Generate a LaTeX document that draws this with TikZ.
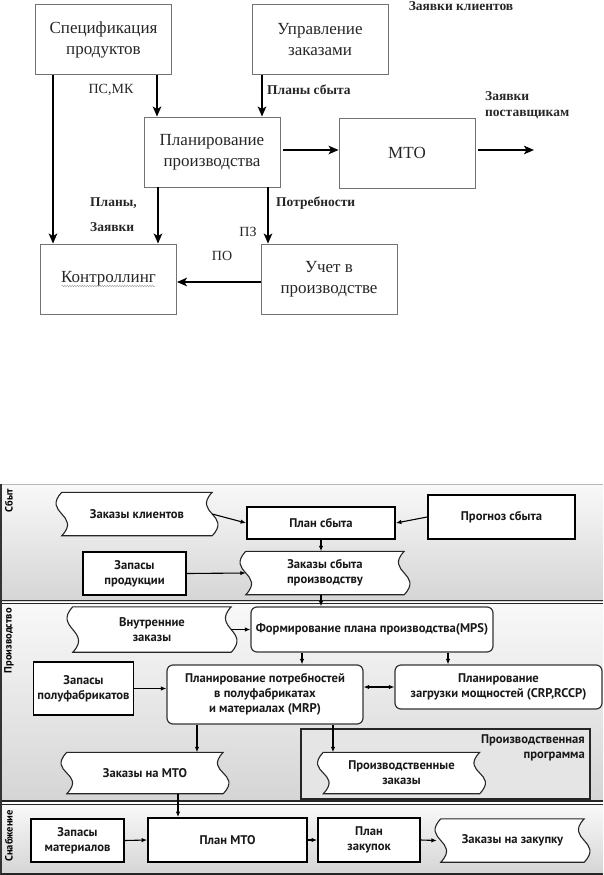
\documentclass[tikz,border=0pt]{standalone}
\usepackage{fontspec}
\setmainfont{Liberation Serif}
\newfontfamily\ptsans{PT Sans}
\usetikzlibrary{arrows.meta,decorations.pathmorphing,calc}
\pgfdeclarelayer{back}
\pgfdeclarelayer{mid}
\pgfsetlayers{back,mid,main}
\newcommand\wavyout[1]{\draw[wavyline] (#1.north west) -- (#1.north east) .. controls +(-20,21) and +(20,-21) .. (#1.south east) -- (#1.south west) .. controls +(20,-21) and +(-20,21) .. (#1.north west) -- cycle;}
\begin{document}
\begin{tikzpicture}[x=1pt,y=-1pt,
  tbox/.style={draw=black!55, line width=0.9pt, minimum width=136pt, minimum height=70pt, inner sep=0pt, font=\fontsize{17}{21}\selectfont, align=center, text=black!85},
  tarr/.style={line width=2.8pt, -{Stealth[length=10pt,width=8.5pt,inset=2.5pt]}},
  tlab/.style={font=\bfseries\fontsize{13.5}{16}\selectfont, inner sep=0pt, text=black!85},
  rlab/.style={font=\fontsize{14}{16}\selectfont, inner sep=0pt, text=black!85},
  bt/.style={font=\ptsans\bfseries\fontsize{12.6}{15}\selectfont, align=center, inner sep=0pt, text=black!90},
  sqbox/.style={bt, draw=black, line width=1.8pt, fill=white},
  rbox/.style={bt, draw=black!80, line width=1.2pt, fill=white, rounded corners=6pt},
  wavyline/.style={draw=black!85, line width=1.1pt, fill=white},
  barr/.style={line width=1.1pt, -{Latex[length=5.5pt,width=4.5pt]}},
  barrb/.style={line width=1.1pt, {Latex[length=5.5pt,width=4.5pt]}-{Latex[length=5.5pt,width=4.5pt]}},
  seclab/.style={font=\ptsans\bfseries\fontsize{10.5}{12}\selectfont, rotate=90, anchor=east, inner sep=0pt}
]
\useasboundingbox (0,0) rectangle (603,875);
% ---------------- top diagram ----------------
\node[tbox] (spec) at (103.5,39.5) {Спецификация\\продуктов};
\node[tbox] (upr) at (320,39.5) {Управление\\заказами};
\node[tbox] (plan) at (212,152) {Планирование\\производства};
\node[tbox] (mto) at (407,153) {МТО};
\node[tbox] (kontr) at (108.5,279) {Контроллинг};
\node[tbox] (uchet) at (329,279) {Учет в\\производстве};
\coordinate (a1) at (157,0);
\coordinate (a2) at (262,0);
\coordinate (a3) at (53,0);
\coordinate (a4) at (158,0);
\coordinate (a5) at (268,0);
\coordinate (a6) at (0,150);
\coordinate (a7) at (0,282);
\coordinate (out) at (534,150);
\draw[tarr] (spec.south -| a1) -- (plan.north -| a1);
\draw[tarr] (upr.south -| a2) -- (plan.north -| a2);
\draw[tarr] (spec.south -| a3) -- (kontr.north -| a3);
\draw[tarr] (plan.south -| a4) -- (kontr.north -| a4);
\draw[tarr] (plan.south -| a5) -- (uchet.north -| a5);
\draw[tarr, shorten <=3pt] (plan.east |- a6) -- (mto.west |- a6);
\draw[tarr, shorten <=3pt] (mto.east |- out) -- (out);
\draw[tarr] (uchet.west |- a7) -- (kontr.east |- a7);
\draw[gray!70, line width=0.5pt, decorate, decoration={snake, amplitude=0.7pt, segment length=2.5pt}] ($(kontr.center)+(-47,7)$) -- ($(kontr.center)+(47,7)$);
\node[tlab] (lzk) at (461,6) {Заявки клиентов};
\node[rlab] (lpsmk) at (111,90) {ПС,МК};
\node[tlab, anchor=west] (lps) at (267,90) {Планы сбыта};
\node[tlab, anchor=west, align=left] (lzp) at (485,105) {Заявки\\поставщикам};
\node[tlab, anchor=west] (lpl) at (90,203) {Планы,};
\node[tlab, anchor=west] (lzv) at (90,227) {Заявки};
\node[tlab, anchor=west] (lpot) at (276,203) {Потребности};
\node[rlab] (lpz) at (248,232) {ПЗ};
\node[rlab] (lpo) at (222,256) {ПО};
% ---------------- bottom diagram: background ----------------
\begin{pgfonlayer}{back}
\shade[top color=gray!5, bottom color=gray!33] (0,484) rectangle (603,601);
\shade[top color=gray!5, bottom color=gray!33] (0,603) rectangle (603,801);
\shade[top color=gray!5, bottom color=gray!33] (0,804) rectangle (603,874);
\draw[gray!55, line width=0.9pt] (0,484) -- (603,484);
\draw[black!85, line width=1.2pt] (0,600.5) -- (603,600.5);
\draw[black!85, line width=1pt] (0,603.5) -- (603,603.5);
\draw[black!85, line width=1.2pt] (0,801) -- (603,801);
\draw[black!85, line width=1pt] (0,804) -- (603,804);
\draw[black!85, line width=1.2pt] (0,874) -- (603,874);
\draw[black!80, line width=1.5pt] (0.75,484) -- (0.75,874);
\node[draw=black!85, line width=2.2pt, fill=gray!20, minimum width=289pt, minimum height=70pt, inner sep=0pt] (ppr) at (445.5,764) {};
\end{pgfonlayer}
\node[seclab] (s1) at (9,489) {Сбыт};
\node[seclab] (s2) at (9,608) {Производство};
\node[seclab] (s3) at (9,810) {Снабжение};
% ---------------- Сбыт ----------------
\node[bt, minimum width=150pt, minimum height=43pt] (zk) at (137,514) {Заказы клиентов};
\node[sqbox, minimum width=148pt, minimum height=32pt] (ps) at (321,523) {План сбыта};
\node[sqbox, minimum width=147pt, minimum height=44pt] (pr) at (501.5,517) {Прогноз сбыта};
\node[sqbox, minimum width=103pt, minimum height=43pt] (zp) at (134.5,573.5) {Запасы\\продукции};
\node[bt, minimum width=158pt, minimum height=43pt] (zsp) at (325,573) {Заказы сбыта\\производству};
% ---------------- Производство ----------------
\node[bt, minimum width=158pt, minimum height=45pt] (vz) at (152,629.5) {Внутренние\\заказы};
\node[rbox, minimum width=242pt, minimum height=45pt] (mps) at (372,629.5) {Формирование плана производства(MPS)};
\node[sqbox, minimum width=100pt, minimum height=53pt] (zpf) at (83.5,688.5) {Запасы\\полуфабрикатов};
\node[rbox, minimum width=196pt, minimum height=59pt] (mrp) at (265,694.5) {Планирование потребностей\\в полуфабрикатах\\и материалах (MRP)};
\node[rbox, minimum width=207pt, minimum height=44pt] (crp) at (498.5,687) {Планирование\\загрузки мощностей (CRP,RCCP)};
\node[bt, minimum width=156pt, minimum height=41pt] (zmto) at (145,773) {Заказы на МТО};
\node[bt, minimum width=156pt, minimum height=41pt] (pz) at (401.5,773) {Производственные\\заказы};
\node[bt, align=right, anchor=east] (pprlab) at (585,748) {Производственная\\программа};
% ---------------- Снабжение ----------------
\node[sqbox, minimum width=93pt, minimum height=43pt] (zm) at (77.5,840.5) {Запасы\\материалов};
\node[sqbox, minimum width=159pt, minimum height=44pt] (pmto) at (227.5,840) {План МТО};
\node[sqbox, minimum width=102pt, minimum height=44pt] (pzak) at (369,840) {План\\закупок};
\node[bt, minimum width=143pt, minimum height=43pt] (zz) at (512.5,840.5) {Заказы на закупку};
\begin{pgfonlayer}{mid}
\wavyout{zk}
\wavyout{zsp}
\wavyout{vz}
\wavyout{zmto}
\wavyout{pz}
\wavyout{zz}
\end{pgfonlayer}
% ---------------- bottom connectors ----------------
\coordinate (b1) at (302,0);
\coordinate (b2) at (448,0);
\coordinate (b3) at (197,0);
\coordinate (b4) at (333,0);
\coordinate (b5) at (178,0);
\draw[barr] (zk.east) -- (ps.west);
\draw[barr] (pr.west) -- (ps.east);
\draw[barr] (ps.south) -- (ps.south |- zsp.north);
\draw[barr] (zp.east) -- (zsp.west);
\draw[barr] (ps.south |- zsp.south) -- (ps.south |- mps.north);
\draw[barr] (vz.east) -- (mps.west);
\draw[barr] (mps.south -| b1) -- (mrp.north -| b1);
\draw[barr] (mps.south -| b2) -- (crp.north -| b2);
\draw[barr] (zpf.east) -- (zpf.east -| mrp.west);
\draw[barrb] (mrp.east |- crp.west) -- (crp.west);
\draw[barr] (mrp.south -| b3) -- (zmto.north -| b3);
\draw[barr] (mrp.south -| b4) -- (pz.north -| b4);
\draw[barr] (zmto.south -| b5) -- (pmto.north -| b5);
\draw[barr] (zm.east) -- (pmto.west);
\draw[barr] (pmto.east) -- (pzak.west);
\draw[barr] (pzak.east) -- ([xshift=-4pt]zz.west);
\end{tikzpicture}
\end{document}
